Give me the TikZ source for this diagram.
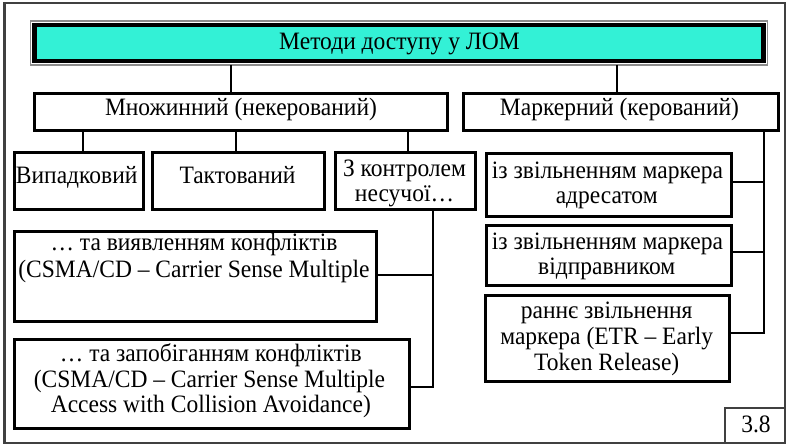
\documentclass[tikz,border=0pt]{standalone}
\usepackage{fontspec}
\setmainfont{Liberation Serif}[FakeStretch=0.94]
\definecolor{topcyan}{RGB}{51,241,214}
\definecolor{framegray}{RGB}{64,64,64}
\begin{document}
\begin{tikzpicture}[x=1pt,y=-1pt,
  box/.style={draw=black, line width=3pt, fill=white, inner sep=0pt, outer sep=0pt},
  txt/.style={font=\fontsize{25}{25.5}\selectfont, align=center, inner sep=0pt, anchor=base},
  conn/.style={line width=2.2pt, black}]
\useasboundingbox (0,0) rectangle (792,446);
\draw[framegray, line width=2.4pt] (4.3,3.3) rectangle (785,442.8);

% top box
\node[draw=black!45, line width=1.2pt, minimum width=737pt, minimum height=44pt, inner sep=0pt, outer sep=0pt] (topouter) at (399,43) {};
\node[draw=black, fill=topcyan, line width=4.2pt, minimum width=729pt, minimum height=36.3pt, inner sep=0pt] (top) at (399,42.9) {};
\node[txt] (toptxt) at (399.5,50) {Методи доступу у ЛОМ};

% level 2
\node[box, minimum width=413pt, minimum height=36.7pt] (mn) at (240.5,111.7) {};
\node[txt] (mntxt) at (241,116) {Множинний (некерований)};
\node[box, minimum width=315pt, minimum height=36.7pt] (mk) at (620.8,111.7) {};
\node[txt] (mktxt) at (619.5,116) {Маркерний (керований)};

% level 3 left
\node[box, minimum width=129pt, minimum height=57pt] (vyp) at (78.8,181.5) {};
\node[txt] (vyptxt) at (76.7,183.3) {Випадковий};
\node[box, minimum width=172pt, minimum height=57pt] (takt) at (238.3,181.5) {};
\node[txt] (takttxt) at (237.5,183.3) {Тактований};
\node[box, minimum width=140.3pt, minimum height=57pt] (kn) at (405.2,181.5) {};
\node[txt] (kntxt1) at (404.5,176.7) {З контролем};
\node[txt] (kntxt2) at (404.5,202) {несучої…};

\node[box, minimum width=362.4pt, minimum height=90.3pt] (cd) at (195.5,276.2) {};
\node[txt] (cdtxt1) at (194,251) {… та виявленням конфліктів};
\node[txt] (cdtxt2) at (194,277) {(CSMA/CD – Carrier Sense Multiple};

\node[box, minimum width=394.7pt, minimum height=88.7pt] (ca) at (211.7,383.7) {};
\node[txt] (catxt1) at (210.8,361.7) {… та запобіганням конфліктів};
\node[txt] (catxt2) at (209.5,387) {(CSMA/CD – Carrier Sense Multiple};
\node[txt] (catxt3) at (210.8,412) {Access with Collision Avoidance)};

% level 3 right
\node[box, minimum width=245.3pt, minimum height=62.7pt] (ra) at (609.3,184.7) {};
\node[txt] (ratxt1) at (607.5,178.3) {із звільненням маркера};
\node[txt] (ratxt2) at (606.7,204) {адресатом};
\node[box, minimum width=245.3pt, minimum height=59.7pt] (rb) at (609.3,255.2) {};
\node[txt] (rbtxt1) at (607.5,250) {із звільненням маркера};
\node[txt] (rbtxt2) at (606.7,275) {відправником};
\node[box, minimum width=243.6pt, minimum height=86.3pt] (rc) at (607.5,338.8) {};
\node[txt] (rctxt1) at (606.7,318.3) {раннє звільнення};
\node[txt] (rctxt2) at (606.7,344.5) {маркера (ETR – Early};
\node[txt] (rctxt3) at (606.7,370) {Token Release)};

% number box
\node[draw=framegray, line width=1.8pt, minimum width=60.3pt, minimum height=34.5pt, inner sep=0pt, outer sep=0pt] (num) at (754.8,425.5) {};
\node[font=\fontsize{25}{26}\selectfont, inner sep=0pt, anchor=base] (numtxt) at (756,432.5) {3.8};

% connector x positions
\coordinate (xa) at (231,0);
\coordinate (xb) at (616.7,0);
\coordinate (x1) at (83.3,0);
\coordinate (x2) at (236,0);
\coordinate (x3) at (408.3,0);
\coordinate (xl) at (433.3,0);
\coordinate (xr) at (764.3,0);

\draw[conn] (topouter.south -| xa) -- (mn.north -| xa);
\draw[conn] (topouter.south -| xb) -- (mk.north -| xb);
\draw[conn] (mn.south -| x1) -- (vyp.north -| x1);
\draw[conn] (mn.south -| x2) -- (takt.north -| x2);
\draw[conn] (mn.south -| x3) -- (kn.north -| x3);

\coordinate (lcd) at (433.3,275);
\coordinate (lca) at (433.3,387);
\draw[conn] (kn.south -| xl) -- (lca) -- (lca -| ca.east);
\draw[conn] (lcd) -- (lcd -| cd.east);

\coordinate (rra) at (764.3,181.7);
\coordinate (rrb) at (764.3,251.7);
\coordinate (rrc) at (764.3,333.3);
\draw[conn] (mk.south -| xr) -- (rrc) -- (rrc -| rc.east);
\draw[conn] (rra) -- (rra -| ra.east);
\draw[conn] (rrb) -- (rrb -| rb.east);
\end{tikzpicture}
\end{document}
